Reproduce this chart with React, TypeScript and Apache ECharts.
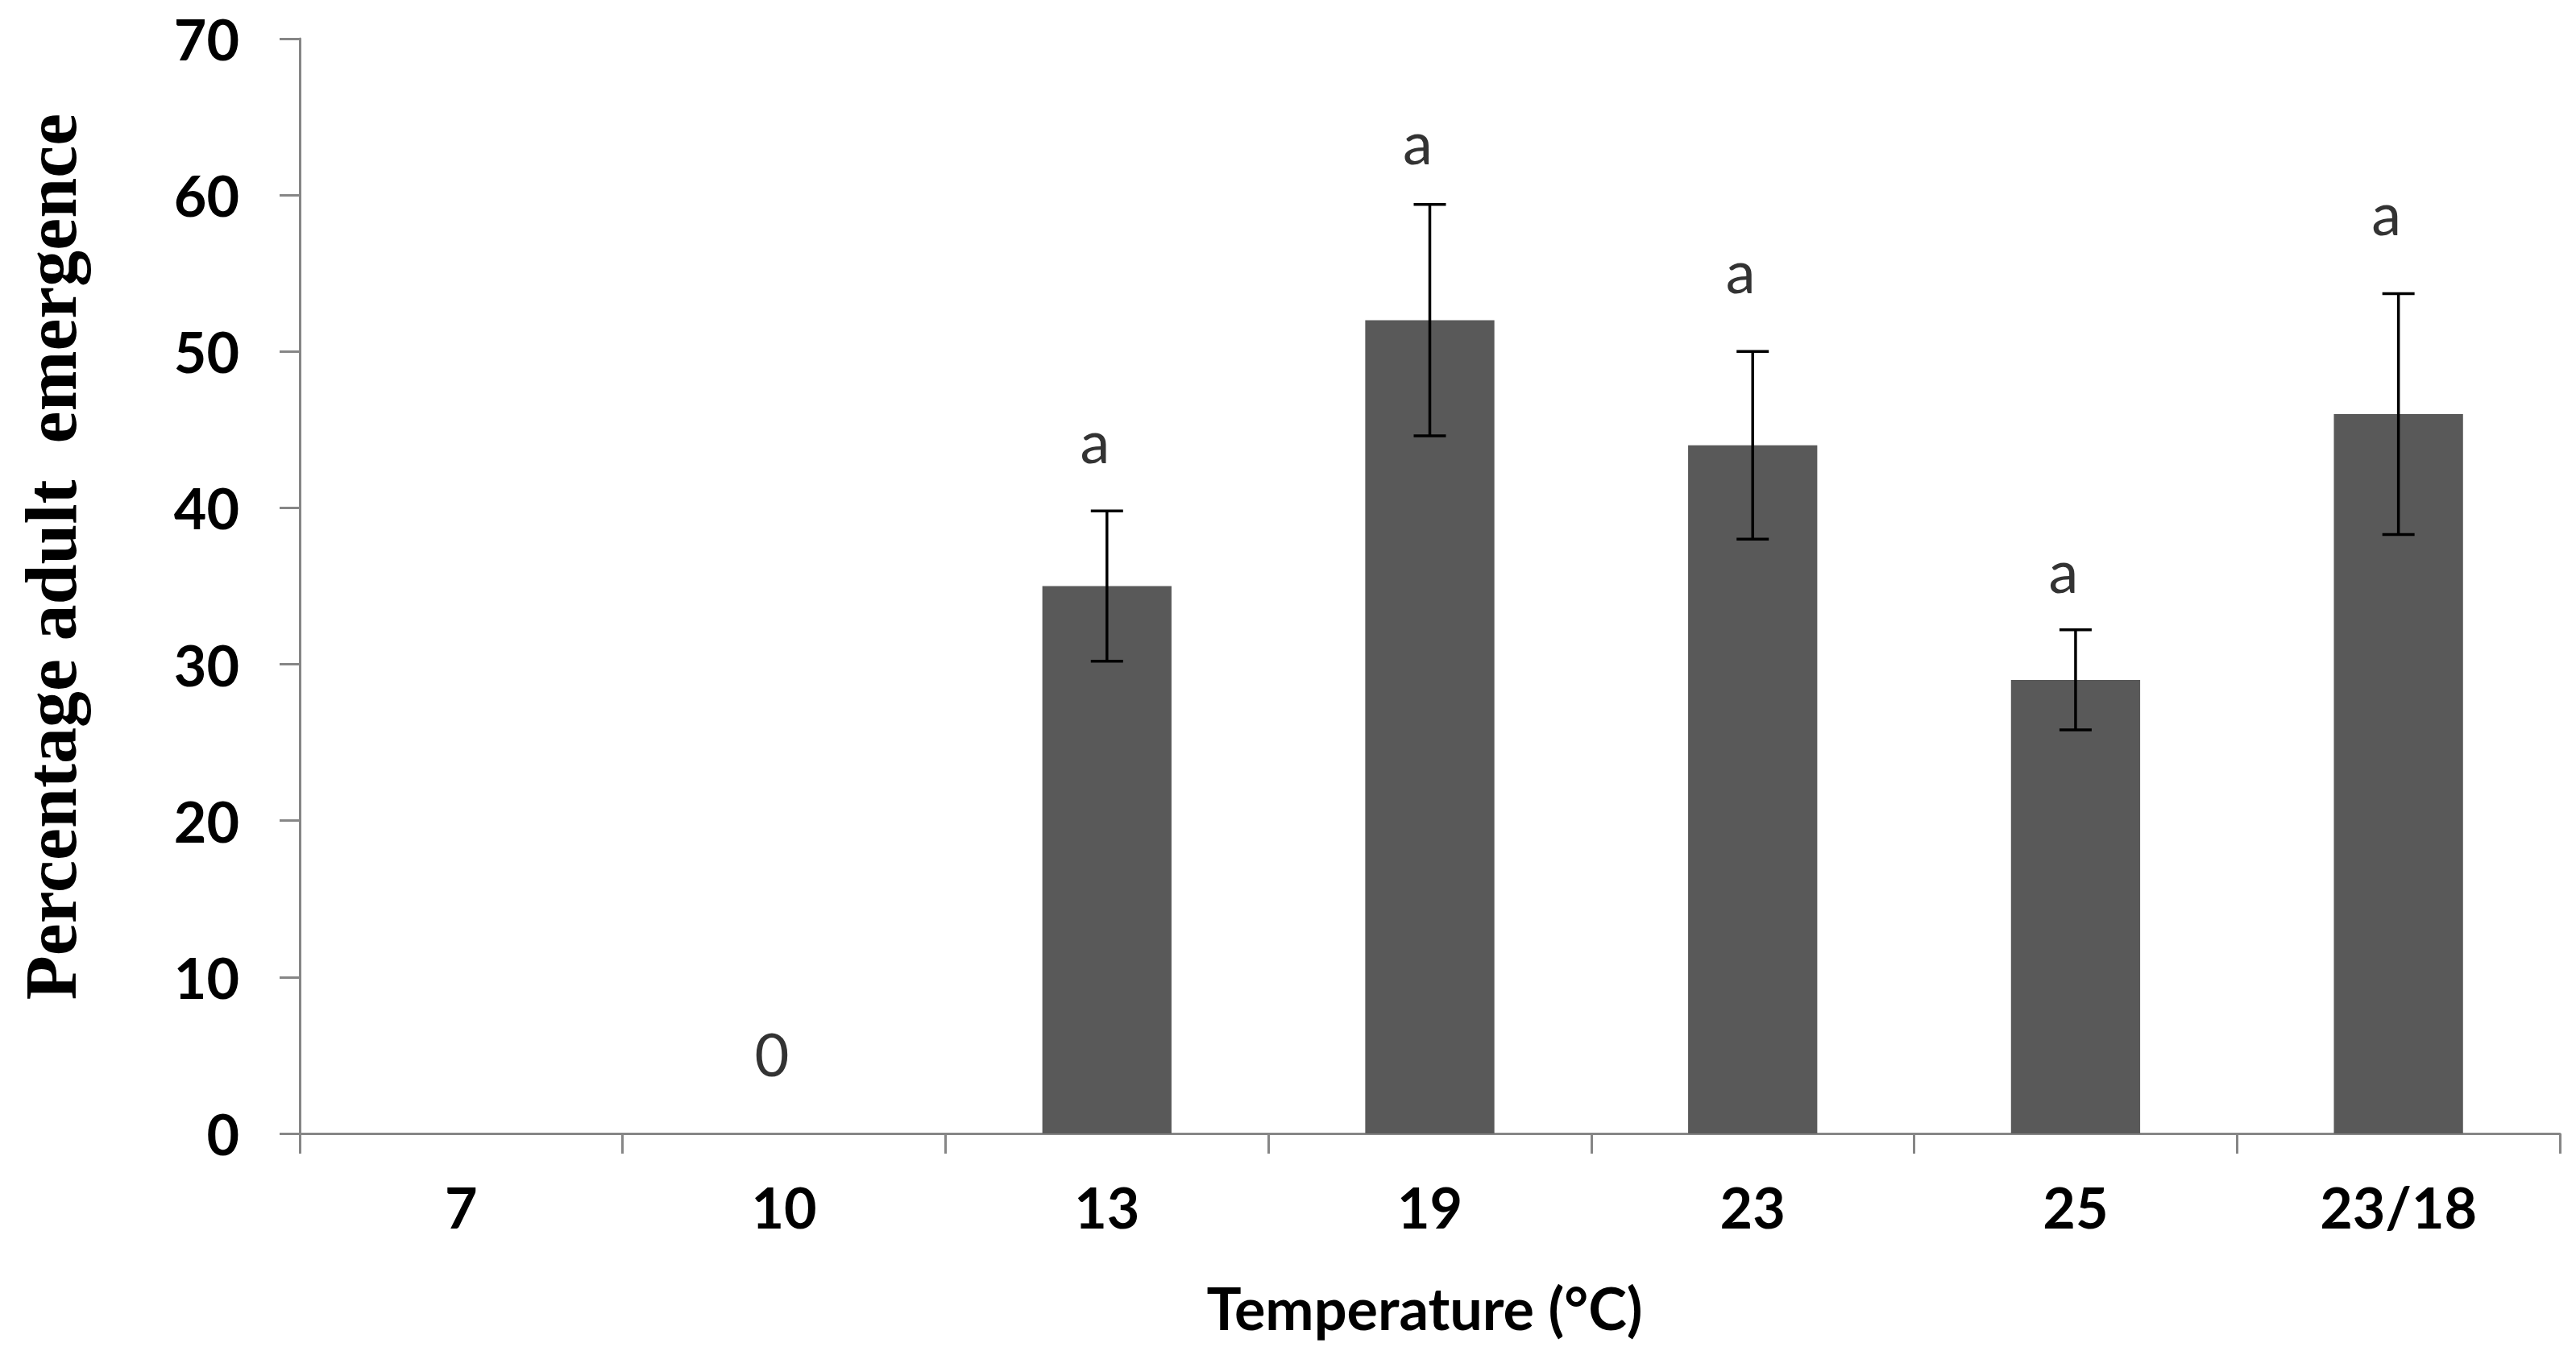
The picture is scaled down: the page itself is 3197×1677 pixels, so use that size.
import React, { useEffect, useRef } from "react";
import * as echarts from "echarts";

const categories = ["7", "10", "13", "19", "23", "25", "23/18"];
const meanValues: (number | null)[] = [null, 0, 35, 52, 44, 29, 46];
const errorValues: (number | null)[] = [null, null, 4.8, 7.4, 6.0, 3.2, 7.7];
const letterTexts = ["", "0", "a", "a", "a", "a", "a"];
const letterLevels: (number | null)[] = [null, 4.7, 43.9, 63.0, 54.8, 35.6, 58.5];
const yTicks = { min: 0, max: 70, interval: 10 };

const xTitle = "Temperature (°C)";
const yTitle = "Percentage adult  emergence";

export default function App() {
  const ref = useRef<HTMLDivElement>(null);

  useEffect(() => {
    if (!ref.current) return;
    const chart = echarts.init(ref.current, undefined, { renderer: "svg" });

    const errData = meanValues
      .map((m, i) => {
        const e = errorValues[i];
        if (m == null || e == null) return null;
        return [i, m - e, m + e];
      })
      .filter((d) => d !== null);

    const letterData = letterLevels
      .map((v, i) => (v == null ? null : { value: [i, v], name: letterTexts[i] }))
      .filter((d) => d !== null);

    const axisColor = "#868686";

    chart.setOption({
      animation: false,
      backgroundColor: "#ffffff",
      grid: { left: 372, right: 20, top: 48, bottom: 270, containLabel: false },
      xAxis: {
        type: "category",
        data: categories,
        boundaryGap: true,
        axisLine: { show: true, lineStyle: { color: axisColor, width: 3 } },
        axisTick: { show: true, length: 25, alignWithLabel: false, lineStyle: { color: axisColor, width: 3 } },
        axisLabel: {
          color: "#000",
          fontFamily: "Lato",
          fontWeight: "bold",
          fontSize: 70,
          margin: 56,
        },
        splitLine: { show: false },
      },
      yAxis: {
        type: "value",
        min: yTicks.min,
        max: yTicks.max,
        interval: yTicks.interval,
        axisLine: { show: true, lineStyle: { color: axisColor, width: 3 } },
        axisTick: { show: true, length: 25, lineStyle: { color: axisColor, width: 3 } },
        axisLabel: {
          color: "#000",
          fontFamily: "Lato",
          fontWeight: "bold",
          fontSize: 70,
          margin: 75,
        },
        splitLine: { show: false },
      },
      series: [
        {
          type: "bar",
          data: meanValues,
          barWidth: "40%",
          itemStyle: { color: "#595959" },
          z: 2,
        },
        {
          type: "custom",
          data: errData,
          z: 3,
          renderItem: (params: any, api: any) => {
            const x = api.value(0);
            const lo = api.coord([x, api.value(1)]);
            const hi = api.coord([x, api.value(2)]);
            const half = 20;
            const style = { stroke: "#000", lineWidth: 3.5 };
            return {
              type: "group",
              children: [
                { type: "line", shape: { x1: hi[0], y1: hi[1], x2: lo[0], y2: lo[1] }, style },
                { type: "line", shape: { x1: hi[0] - half, y1: hi[1], x2: hi[0] + half, y2: hi[1] }, style },
                { type: "line", shape: { x1: lo[0] - half, y1: lo[1], x2: lo[0] + half, y2: lo[1] }, style },
              ],
            };
          },
        },
        {
          type: "scatter",
          data: letterData,
          symbolSize: 0,
          z: 4,
          label: {
            show: true,
            position: "inside",
            formatter: (p: any) => p.name,
            offset: [-15, -8],
            color: "#000",
            fontFamily: "Lato",
            fontSize: 74,
          },
        },
      ],
      graphic: [
        {
          type: "text",
          x: 1768,
          y: 1623,
          style: {
            text: xTitle,
            fontFamily: "Lato",
            fontWeight: "bold",
            fontSize: 72,
            fill: "#000",
            align: "center",
            verticalAlign: "middle",
          },
        },
        {
          type: "text",
          x: 63,
          y: 691,
          rotation: Math.PI / 2,
          style: {
            text: yTitle,
            fontFamily: "Liberation Serif",
            fontWeight: "bold",
            fontSize: 90,
            fill: "#000",
            align: "center",
            verticalAlign: "middle",
          },
        },
      ],
    });

    return () => chart.dispose();
  }, []);

  return (
    <div
      ref={ref}
      style={{ position: "absolute", left: 0, top: 0, width: "3197px", height: "1677px" }}
    />
  );
}
